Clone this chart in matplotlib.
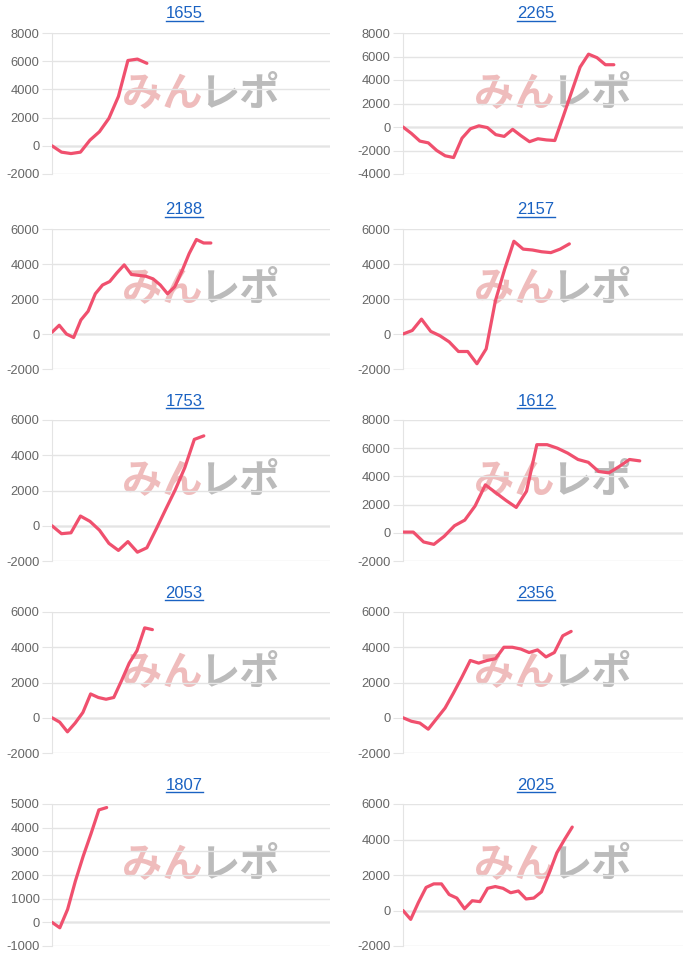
import numpy as np
import matplotlib
matplotlib.use('Agg')
import matplotlib.pyplot as plt
from matplotlib.lines import Line2D

plt.rcParams['font.family'] = ['Liberation Sans', 'Noto Sans CJK JP', 'DejaVu Sans']
plt.rcParams['axes.unicode_minus'] = False

# 台番号ごとの差枚推移
titles = ['1655', '2265', '2188', '2157', '1753', '1612', '2053', '2356', '1807', '2025']

s1655 = [0, -450, -550, -450, 400, 1000, 1950, 3500, 6050, 6150, 5850]
s2265 = [0, -550, -1200, -1350, -2000, -2450, -2600, -950, -150, 100, -50, -650,
         -800, -200, -750, -1250, -1000, -1100, -1150, 900, 3000, 5100, 6200,
         5900, 5300, 5300]
s2188 = [100, 500, 0, -200, 800, 1300, 2300, 2800, 3000, 3500, 3950, 3400, 3350,
         3300, 3150, 2800, 2300, 2700, 3600, 4600, 5400, 5200, 5200]
s2157 = [0, 200, 850, 150, -100, -450, -1000, -1000, -1700, -850, 1900, 3700,
         5300, 4850, 4800, 4700, 4650, 4850, 5150]
s1753 = [0, -450, -400, 550, 250, -250, -1000, -1400, -900, -1500, -1250, -170,
         950, 2050, 3300, 4900, 5100]
s1612 = [50, 50, -650, -820, -250, 500, 900, 1900, 3400, 2850, 2300, 1800, 2950,
         6250, 6250, 6000, 5650, 5200, 5000, 4350, 4250, 4700, 5200, 5100]
s2053 = [0, -250, -800, -300, 300, 1350, 1150, 1050, 1150, 2100, 3100, 3800,
         5100, 5000]
s2356 = [0, -200, -300, -650, -50, 550, 1400, 2300, 3250, 3100, 3250, 3350, 4000,
         4000, 3900, 3700, 3850, 3450, 3700, 4650, 4900]
s1807 = [0, -230, 550, 1750, 2800, 3750, 4750, 4850]
s2025 = [0, -500, 450, 1300, 1500, 1500, 900, 700, 100, 550, 500, 1250, 1350,
         1250, 1000, 1100, 650, 700, 1050, 2100, 3250, 4000, 4700]

series = [s1655, s2265, s2188, s2157, s1753, s1612, s2053, s2356, s1807, s2025]

# 横軸の目盛り数 (グラフごとに異なる)
slots = [29.3, 33.2, 38.5, 30.3, 29.3, 27.2, 36.0, 33.3, 35.6, 36.4]

y_lo = [-2000, -4000, -2000, -2000, -2000, -2000, -2000, -2000, -1000, -2000]
y_hi = [8000, 8000, 6000, 6000, 6000, 8000, 6000, 6000, 5000, 6000]
y_step = [2000, 2000, 2000, 2000, 2000, 2000, 2000, 2000, 1000, 2000]

W, H = 700, 961
fig = plt.figure(figsize=(W / 100, H / 100), dpi=100)

col_left = [52, 403]
col_width = [278, 280]
row_top = [33, 229, 420, 612, 804]
row_bottom = [174, 369, 561, 753, 946]

line_color = '#f0506e'
grid_color = '#e4e4e4'

title_texts = []
for i, (name, vals) in enumerate(zip(titles, series)):
    r, c = divmod(i, 2)
    l, w = col_left[c], col_width[c]
    t, b = row_top[r], row_bottom[r]
    ax = fig.add_axes([l / W, 1 - b / H, w / W, (b - t) / H])

    ax.set_xlim(0, slots[i])
    ax.set_ylim(y_lo[i], y_hi[i])
    ax.set_yticks(np.arange(y_lo[i], y_hi[i] + 1, y_step[i]))
    ax.set_xticks([])
    ax.grid(axis='y', color=grid_color, linewidth=1)
    ax.axhline(0, color='#b5b5b5', linewidth=1, zorder=1)
    for sp in ['top', 'right', 'bottom']:
        ax.spines[sp].set_visible(False)
    ax.spines['left'].set_color(grid_color)
    ax.tick_params(axis='y', length=7, color=grid_color, pad=2,
                   labelsize=9.3, labelcolor='#666666')

    # みんレポ watermark
    ax.text(0.54, 0.565, 'みん', transform=ax.transAxes, fontsize=29,
            fontweight='bold', family=['Noto Sans CJK JP'], color='#efbcbc',
            ha='right', va='center', zorder=0)
    ax.text(0.53, 0.565, 'レポ', transform=ax.transAxes, fontsize=29,
            fontweight='bold', family=['Noto Sans CJK JP'], color='#bbbbbb',
            ha='left', va='center', zorder=0)

    ax.plot(np.arange(len(vals)), vals, color=line_color, linewidth=2.3,
            solid_joinstyle='round', solid_capstyle='round', zorder=3)

    tx = fig.text((l + w / 2 - 7) / W, 1 - (t - 19) / H, name, fontsize=12,
                  color='#1a62c2', ha='center', va='center')
    title_texts.append((tx, t))

# タイトルの下線
fig.canvas.draw()
renderer = fig.canvas.get_renderer()
for tx, t in title_texts:
    bb = tx.get_window_extent(renderer)
    y = 1 - (t - 12) / H
    fig.add_artist(Line2D([bb.x0 / W, bb.x1 / W], [y, y], color='#1a62c2',
                          linewidth=1.0, transform=fig.transFigure))

fig.savefig('out.png', dpi=100)
